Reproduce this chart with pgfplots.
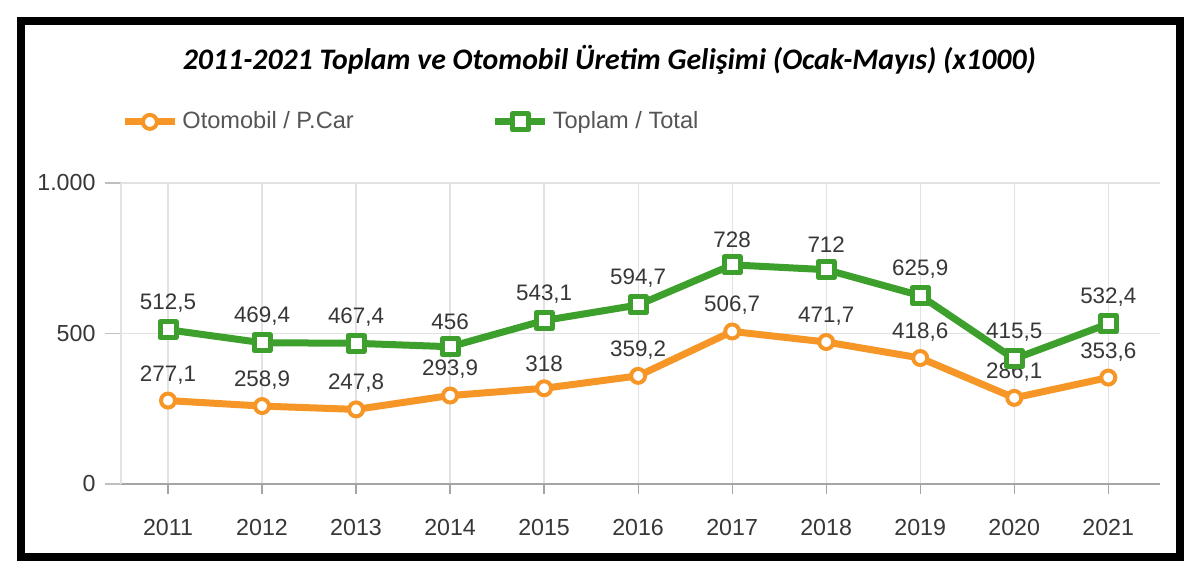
\documentclass[border=0pt]{standalone}
\usepackage{pgfplots}
\pgfplotsset{compat=1.18}
\usepackage{fontspec}
\setmainfont{Liberation Sans}
\newfontfamily\titlefont{Carlito}

\definecolor{carorange}{RGB}{246,150,38}
\definecolor{totgreen}{RGB}{62,160,44}
\definecolor{gridgray}{RGB}{226,226,226}
\definecolor{axisgray}{RGB}{165,165,165}
\definecolor{labelgray}{RGB}{55,55,55}
\definecolor{legendgray}{RGB}{85,85,85}

% Ocak-Mayis uretimi (x1000)
\pgfplotstableread{
yil  otomobil toplam
2011 277.1    512.5
2012 258.9    469.4
2013 247.8    467.4
2014 293.9    456
2015 318      543.1
2016 359.2    594.7
2017 506.7    728
2018 471.7    712
2019 418.6    625.9
2020 286.1    415.5
2021 353.6    532.4
}\uretim

\begin{document}
\begin{tikzpicture}
\useasboundingbox (-60.5pt,-49pt) rectangle (539.5pt,242pt);
\fill[white] (-60.5pt,-49pt) rectangle (539.5pt,242pt);
\draw[line width=4pt, black] (-49.75pt,-36.75pt) rectangle (529.5pt,231.25pt);
\begin{axis}[
  scale only axis, width=519.5pt, height=150.5pt,
  xmin=2010.5, xmax=2021.55, ymin=0, ymax=1000,
  xtick={2011,2012,...,2021}, ytick={0,500,1000},
  axis x line*=bottom, axis y line*=left,
  x axis line style={-, draw=axisgray, line width=0.6pt},
  y axis line style={-, draw=gridgray, line width=0.6pt},
  tick align=outside,
  xtick style={draw=axisgray, line width=0.6pt, /pgfplots/major tick length=5pt},
  ytick style={draw=axisgray!70, line width=0.6pt, /pgfplots/major tick length=8pt},
  xmajorgrids, ymajorgrids,
  grid style={draw=gridgray, line width=0.6pt},
  /pgf/number format/use comma,
  /pgf/number format/1000 sep={.},
  /pgf/number format/assume math mode=true,
  tick label style={font=\fontsize{11.6}{13}\selectfont, text=labelgray},
  xticklabel style={/pgf/number format/1000 sep={}, yshift=-10pt},
  yticklabel style={xshift=-5pt},
  title={\titlefont\bfseries\itshape 2011-2021 Toplam ve Otomobil Üretim Gelişimi (Ocak-Mayıs) (x1000)},
  title style={at={(0.47,1.369)}, anchor=center, font=\fontsize{14.9}{17}\selectfont},
  legend style={at={(0,1.203)}, anchor=west, draw=none, fill=none, inner sep=0pt,
    font=\fontsize{11.8}{13}\selectfont, text=legendgray,
    /tikz/every even column/.append style={column sep=67pt}},
  legend columns=2,
  legend image code/.code={\draw[mark repeat=2,mark phase=2,#1] plot coordinates {(0pt,0pt) (12.5pt,0pt) (25pt,0pt)};},
  nodes near coords,
  nodes near coords style={font=\fontsize{11.2}{13}\selectfont, text=labelgray, yshift=4pt},
  line join=round,
]
\addplot[carorange, line width=3.5pt, mark=*, mark size=3.5pt,
  mark options={fill=white, draw=carorange, line width=2pt}, point meta=y]
  table[x=yil, y=otomobil] {\uretim};
\addlegendentry{Otomobil / P.Car}
\addplot[totgreen, line width=3.5pt, mark=square*, mark size=4pt,
  mark options={fill=white, draw=totgreen, line width=2.5pt}, point meta=y]
  table[x=yil, y=toplam] {\uretim};
\addlegendentry{Toplam / Total}
\end{axis}
\end{tikzpicture}
\end{document}
